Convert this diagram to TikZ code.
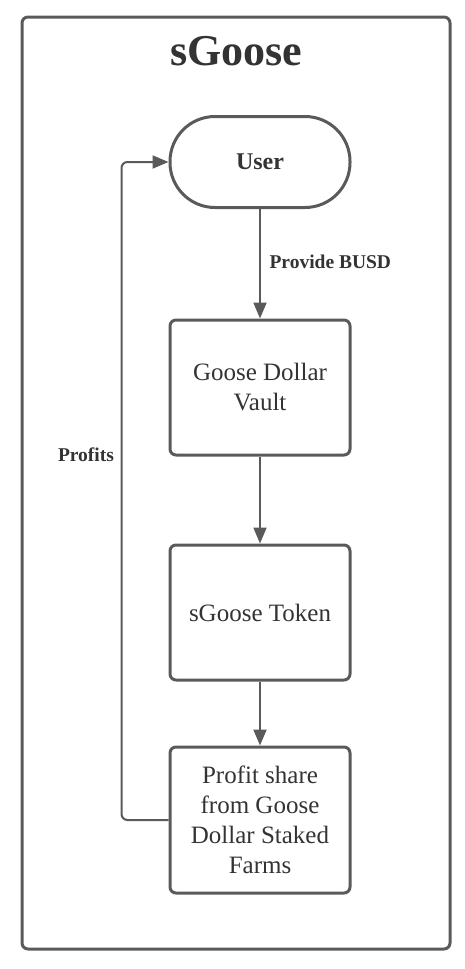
\documentclass[tikz,border=0pt]{standalone}
\usepackage{fontspec}
\setmainfont{Liberation Serif}
\usepackage{tikz}
\usetikzlibrary{arrows.meta}
\definecolor{edgegray}{HTML}{5A5A5A}
\definecolor{ink}{HTML}{333333}

\begin{document}
\begin{tikzpicture}[x=1pt,y=-1pt,
    board/.style={draw=edgegray,line width=3pt,rounded corners=6pt,
        minimum width=428pt,minimum height=932pt},
    terminal/.style={draw=edgegray,line width=3pt,rounded corners=45pt,
        minimum width=180pt,minimum height=91pt,text=ink,
        font=\fontsize{24}{28}\selectfont\bfseries},
    stage/.style={draw=edgegray,line width=3pt,rounded corners=6pt,
        minimum width=180pt,minimum height=135pt,align=center,text=ink,
        font=\fontsize{25}{30}\selectfont},
    flow/.style={-{Triangle[length=16pt,width=13pt]},draw=edgegray,line width=2pt},
    note/.style={text=ink,font=\fontsize{19.5}{23}\selectfont\bfseries}
]
    \useasboundingbox (0,0) rectangle (464,969);
    \node[board] (frame) at (236,483) {};
    \node[text=ink,font=\fontsize{44}{50}\selectfont\bfseries] (title) at (236,51) {sGoose};

    \node[terminal] (user) at (260,162) {User};
    \node[stage] (vault) at (260,387.5) {Goose Dollar\\Vault};
    \node[stage] (token) at (260,612.5) {sGoose Token};
    \node[stage,minimum height=146pt] (farms) at (260,820)
        {Profit share\\from Goose\\Dollar Staked\\Farms};

    \draw[flow] (user)--(vault);
    \draw[flow] (vault)--(token);
    \draw[flow] (token)--(farms);
    \draw[flow,rounded corners=6pt] (farms.west) -- ++(-47,0) |- (user.west);

    \node[note,anchor=west] (provide) at (266,262) {Provide BUSD};
    \node[note] (profits) at (86,455) {Profits};
\end{tikzpicture}
\end{document}
